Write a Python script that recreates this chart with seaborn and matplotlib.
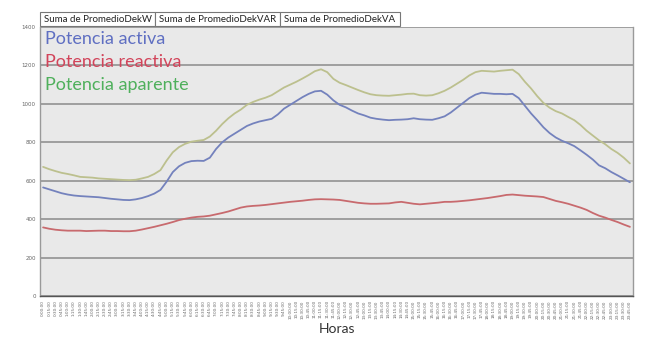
import matplotlib
matplotlib.use("Agg")
import matplotlib.pyplot as plt
from matplotlib.patches import Rectangle
import seaborn as sns
import pandas as pd

horas = [f"{h}:{m:02d}:00" for h in range(24) for m in (0, 15, 30, 45)]

activa = [565, 555, 545, 535, 528, 523, 520, 518, 516, 514, 510, 506, 503, 500, 499, 503,
          510, 520, 533, 552, 595, 645, 675, 693, 702, 704, 703, 720, 765, 800, 825, 845,
          865, 885, 898, 908, 915, 922, 945, 975, 995, 1015, 1035, 1052, 1065, 1068, 1048, 1018,
          995, 982, 965, 950, 940, 928, 922, 918, 915, 917, 918, 920, 925, 920, 918, 917,
          925, 935, 955, 980, 1005, 1030, 1048, 1058, 1055, 1052, 1052, 1050, 1052, 1030, 990, 950,
          915, 878, 848, 825, 808, 795, 780, 758, 735, 710, 680, 665, 645, 628, 610, 592]

reactiva = [357, 350, 345, 342, 340, 340, 340, 338, 339, 340, 340, 338, 338, 337, 337, 340,
            346, 353, 360, 368, 376, 385, 395, 402, 408, 412, 414, 418, 425, 432, 440, 450,
            460, 466, 469, 471, 474, 478, 482, 486, 490, 493, 496, 500, 503, 504, 503, 502,
            500, 495, 490, 485, 482, 480, 480, 481, 482, 487, 490, 485, 480, 477, 480, 483,
            486, 490, 490, 492, 495, 498, 502, 506, 510, 515, 520, 526, 528, 525, 522, 520,
            518, 515, 505, 495, 488, 480, 470, 460, 448, 432, 418, 408, 396, 385, 372, 360]

aparente = [672, 660, 650, 641, 635, 628, 620, 618, 616, 612, 610, 608, 606, 604, 603, 605,
            612, 620, 635, 655, 705, 748, 775, 792, 803, 808, 812, 830, 860, 895, 925, 950,
            970, 995, 1010, 1022, 1032, 1045, 1065, 1085, 1100, 1115, 1132, 1150, 1170, 1180, 1165, 1130,
            1110, 1098, 1085, 1072, 1060, 1050, 1045, 1043, 1042, 1045, 1048, 1052, 1053, 1045, 1043, 1045,
            1055, 1068, 1085, 1105, 1125, 1148, 1165, 1172, 1170, 1168, 1172, 1175, 1178, 1155, 1115, 1080,
            1040, 1005, 980, 962, 950, 932, 915, 890, 860, 835, 810, 790, 765, 745, 720, 690]

series_names = ["Potencia activa", "Potencia reactiva", "Potencia aparente"]
tabs = ["Suma de PromedioDekW", "Suma de PromedioDekVAR", "Suma de PromedioDekVA"]
yticks = [0, 200, 400, 600, 800, 1000, 1200, 1400]

line_colors = {"Potencia activa": "#7482bd", "Potencia reactiva": "#c86a6e", "Potencia aparente": "#bcc08e"}
text_colors = {"Potencia activa": "#5f6fc2", "Potencia reactiva": "#d2445a", "Potencia aparente": "#4fb05c"}

rows = []
for name, vals in zip(series_names, [activa, reactiva, aparente]):
    for i, v in enumerate(vals):
        rows.append({"idx": i, "Hora": horas[i], "valor": v, "serie": name})
df = pd.DataFrame(rows)

sns.set_style("white")
fig = plt.figure(figsize=(6.5, 3.51), dpi=100)
ax = fig.add_axes([40 / 650, 1 - 296 / 351, 593 / 650, 269 / 351])
ax.set_facecolor("#e9e9e9")

sns.lineplot(data=df, x="idx", y="valor", hue="serie", palette=line_colors,
             hue_order=[series_names[2], series_names[0], series_names[1]],
             linewidth=1.3, legend=False, ax=ax)

ax.set_xlim(-0.5, len(horas) - 0.5)
ax.set_ylim(0, 1400)
ax.set_yticks(yticks)
ax.set_yticklabels([str(t) for t in yticks], fontsize=4, color="#666666")
ax.set_xticks(range(len(horas)))
ax.set_xticklabels(horas, rotation=90, fontsize=3, color="#666666")
ax.tick_params(axis="x", length=2, width=0.7, color="#444444", pad=1)
ax.tick_params(axis="y", length=2, width=0.6, color="#777777", pad=1)
ax.grid(axis="y", color="#8a8a8a", linewidth=1.1)
ax.set_axisbelow(True)
ax.set_xlabel("Horas", fontsize=10, color="#333333", family="Lato", labelpad=3)
ax.set_ylabel("")

for s in ["left", "right"]:
    ax.spines[s].set_color("#9a9a9a")
    ax.spines[s].set_linewidth(1.0)
ax.spines["bottom"].set_color("#555555")
ax.spines["bottom"].set_linewidth(1.0)
ax.spines["top"].set_visible(False)

for k, name in enumerate(series_names):
    ax.text(0.008, 0.955 - k * 0.085, name, transform=ax.transAxes, fontsize=13,
            family="Lato", color=text_colors[name], va="center", ha="left")

tab_edges = [40, 155, 280, 400]
for k, label in enumerate(tabs):
    x0 = tab_edges[k] / 650
    w = (tab_edges[k + 1] - tab_edges[k]) / 650
    fig.patches.append(Rectangle((x0, 1 - 26 / 351), w, 14 / 351, transform=fig.transFigure,
                                 facecolor="white", edgecolor="#777777", linewidth=0.8))
    fig.text(x0 + w / 2, 1 - 19 / 351, label, ha="center", va="center", fontsize=7,
             family="Lato", color="#222222")

fig.savefig("out.png", dpi=100)
